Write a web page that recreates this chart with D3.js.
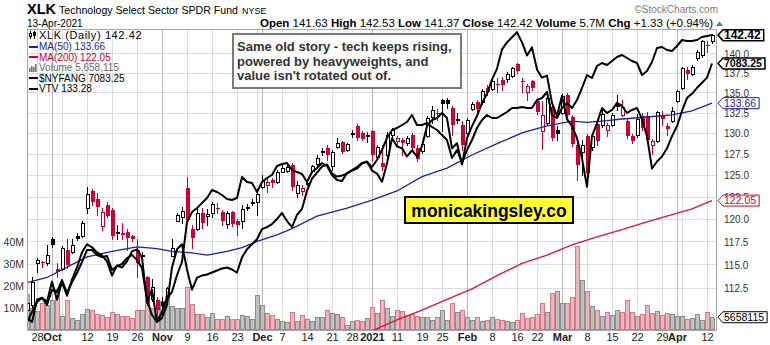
<!DOCTYPE html>
<html><head><meta charset="utf-8">
<script src="https://cdn.jsdelivr.net/npm/d3@7"></script>
<style>
html,body{margin:0;padding:0;background:#fff;}
svg{display:block;font-family:"Liberation Sans",Arial,sans-serif;}
</style></head><body>
<svg id="chart" width="770" height="345"></svg>
<script>
// ---------------- DATA ----------------
const dates = [
"2020-09-24","2020-09-25","2020-09-28","2020-09-29","2020-09-30","2020-10-01","2020-10-02","2020-10-05","2020-10-06","2020-10-07",
"2020-10-08","2020-10-09","2020-10-12","2020-10-13","2020-10-14","2020-10-15","2020-10-16","2020-10-19","2020-10-20","2020-10-21",
"2020-10-22","2020-10-23","2020-10-26","2020-10-27","2020-10-28","2020-10-29","2020-10-30","2020-11-02","2020-11-03","2020-11-04",
"2020-11-05","2020-11-06","2020-11-09","2020-11-10","2020-11-11","2020-11-12","2020-11-13","2020-11-16","2020-11-17","2020-11-18",
"2020-11-19","2020-11-20","2020-11-23","2020-11-24","2020-11-25","2020-11-27","2020-11-30","2020-12-01","2020-12-02","2020-12-03",
"2020-12-04","2020-12-07","2020-12-08","2020-12-09","2020-12-10","2020-12-11","2020-12-14","2020-12-15","2020-12-16","2020-12-17",
"2020-12-18","2020-12-21","2020-12-22","2020-12-23","2020-12-24","2020-12-28","2020-12-29","2020-12-30","2020-12-31","2021-01-04",
"2021-01-05","2021-01-06","2021-01-07","2021-01-08","2021-01-11","2021-01-12","2021-01-13","2021-01-14","2021-01-15","2021-01-19",
"2021-01-20","2021-01-21","2021-01-22","2021-01-25","2021-01-26","2021-01-27","2021-01-28","2021-01-29","2021-02-01","2021-02-02",
"2021-02-03","2021-02-04","2021-02-05","2021-02-08","2021-02-09","2021-02-10","2021-02-11","2021-02-12","2021-02-16","2021-02-17",
"2021-02-18","2021-02-19","2021-02-22","2021-02-23","2021-02-24","2021-02-25","2021-02-26","2021-03-01","2021-03-02","2021-03-03",
"2021-03-04","2021-03-05","2021-03-08","2021-03-09","2021-03-10","2021-03-11","2021-03-12","2021-03-15","2021-03-16","2021-03-17",
"2021-03-18","2021-03-19","2021-03-22","2021-03-23","2021-03-24","2021-03-25","2021-03-26","2021-03-29","2021-03-30","2021-03-31",
"2021-04-01","2021-04-05","2021-04-06","2021-04-07","2021-04-08","2021-04-09","2021-04-12","2021-04-13"];

const openP = [110.2,110.76,115.2,115.3,115.1,117.7,114.5,114.5,116.6,116.3,
118.1,118.1,121.2,123.2,122.2,119.2,121.5,121.0,118.4,118.4,
118.5,118.1,116.6,115.9,113.6,111.3,111.2,111.0,111.5,115.9,
119.8,120.2,123.5,118.9,118.9,120.6,120.3,120.6,121.2,120.8,
119.4,120.8,119.7,119.8,121.2,121.8,121.9,123.6,123.85,124.4,
124.2,125.4,125.5,126.2,122.9,123.15,124.0,125.5,126.3,127.7,
128.2,126.0,128.3,128.9,127.95,129.9,130.85,130.0,129.6,130.2,
127.1,126.4,127.4,129.75,129.0,129.15,128.8,129.75,128.2,127.8,
129.6,131.95,132.5,134.0,134.0,133.0,131.6,130.97,130.0,132.9,
133.8,133.8,135.6,135.45,136.1,136.6,136.7,137.1,138.6,136.5,
135.1,136.45,133.9,130.24,131.2,133.2,130.35,132.45,134.7,131.95,
128.55,127.7,129.6,128.3,131.1,130.97,130.36,130.97,133.3,132.2,
131.45,129.6,129.75,132.1,132.1,128.55,129.05,132.2,130.85,131.45,
133.9,135.6,137.85,137.35,139.4,139.8,141.1,141.63];

const highP = [111.4,113.7,115.7,115.4,117.1,118.0,115.2,117.0,117.7,117.7,
118.4,119.8,123.6,123.4,122.9,121.2,121.9,121.2,119.3,119.5,
118.9,118.2,117.7,116.3,113.8,113.4,111.6,111.5,112.6,117.7,
120.7,121.3,124.8,119.3,121.2,121.2,121.1,121.9,121.8,121.0,
120.9,120.9,120.0,121.6,121.7,122.2,123.0,125.0,124.7,124.7,
125.6,126.2,126.2,126.4,124.3,123.85,124.4,126.2,127.4,128.2,
128.5,127.95,129.4,129.0,128.8,130.4,131.1,130.2,130.1,130.4,
128.55,128.55,130.1,130.6,129.6,129.4,129.6,130.0,128.55,128.9,
132.1,133.3,132.9,134.2,134.3,133.3,132.45,131.4,131.8,133.8,
134.0,135.45,135.95,136.8,136.8,137.0,137.6,138.3,138.7,136.8,
136.1,136.6,134.06,133.9,134.6,133.4,130.85,134.8,134.9,132.2,
129.15,129.15,129.9,129.9,131.6,132.8,131.2,132.4,134.7,134.06,
131.7,129.9,132.3,132.45,132.6,129.3,132.7,132.7,131.2,133.2,
135.3,138.3,138.3,138.5,140.46,141.8,141.7,142.53];

const lowP = [109.6,110.55,114.2,114.7,114.9,116.9,113.7,114.4,114.6,116.2,
117.6,118.0,120.7,121.6,120.4,118.8,120.2,117.8,117.8,117.8,
116.6,117.5,113.7,115.2,110.7,111.1,109.0,109.4,111.3,115.9,
119.7,119.5,119.7,116.8,118.7,119.0,119.3,120.2,120.6,119.3,
119.0,119.2,118.2,119.0,121.0,121.6,120.4,123.5,123.0,123.6,
124.1,125.3,125.3,123.3,122.5,122.7,123.85,125.4,126.2,127.4,
126.8,125.6,128.2,127.6,127.8,129.5,129.15,129.1,128.9,126.8,
127.0,125.6,127.2,129.4,128.55,127.4,128.55,127.95,126.7,127.6,
129.5,131.2,131.6,130.2,133.0,129.75,131.2,127.95,129.75,132.8,
132.6,133.6,134.7,135.3,135.0,135.3,136.3,137.0,137.5,135.1,
134.0,135.3,132.3,128.1,130.97,129.15,129.15,132.3,131.95,128.4,
124.4,125.0,124.0,127.95,128.55,130.7,129.6,130.85,132.8,132.1,
129.4,128.8,129.5,130.36,129.0,127.5,128.9,130.97,129.75,131.3,
133.8,135.45,136.7,137.2,139.2,139.6,140.2,141.37];

const closeP = [110.9,113.15,115.5,115.1,116.0,117.1,114.2,116.8,114.9,117.1,
117.7,119.5,122.8,121.9,121.3,120.8,120.3,118.1,118.5,118.2,
117.9,117.7,115.2,116.0,110.8,112.6,110.2,110.6,112.5,116.8,
120.4,120.9,119.9,117.9,120.6,119.5,120.5,121.7,121.1,119.7,
120.7,119.4,119.3,121.1,121.3,121.9,122.8,124.3,124.2,124.1,
125.4,125.8,125.95,123.6,123.85,123.5,124.1,126.0,127.0,127.8,
127.4,127.7,128.8,127.7,128.7,130.0,129.4,129.3,129.75,127.4,
128.3,125.95,129.75,130.4,129.4,128.8,129.4,128.2,126.9,128.7,
131.8,132.8,132.4,133.5,133.6,130.97,131.7,128.55,131.6,133.55,
132.9,135.2,135.0,136.5,136.0,135.95,137.35,138.1,137.75,136.45,
135.8,135.6,132.55,132.2,134.3,129.4,129.85,134.55,132.2,128.7,
126.2,128.55,125.25,129.6,129.0,132.3,130.97,132.2,133.4,133.2,
129.6,129.0,131.7,130.6,129.15,129.05,132.55,131.7,130.5,132.7,
135.2,138.1,137.35,138.25,140.2,141.6,141.09,142.42];

// volume in millions of shares
const volumeM = [16.5,10.0,8.5,12.3,11.3,13.6,18.6,6.2,13.6,5.4,
4.6,7.3,9.4,8.8,7.3,6.7,5.8,8.0,7.3,6.2,
6.2,5.1,8.8,9.0,14.0,9.7,10.3,13.0,15.4,10.8,
9.7,10.0,19.6,11.7,7.2,7.2,5.9,7.6,4.9,4.9,
6.4,4.9,4.9,6.9,6.0,4.9,15.9,11.2,7.7,6.9,
4.9,3.8,3.6,8.2,3.8,6.9,4.9,3.8,5.9,5.9,
9.2,7.6,7.2,5.7,2.3,3.8,4.2,3.9,5.1,10.5,
7.5,13.4,9.7,6.2,8.8,8.5,6.5,7.3,6.0,5.7,
5.7,4.2,5.7,8.8,4.2,12.0,8.0,9.2,5.7,4.2,
5.7,3.8,4.6,5.7,5.0,4.6,3.8,3.5,4.6,7.4,
5.3,5.8,7.0,12.4,8.2,17.0,17.8,12.4,12.4,15.0,
38.7,22.7,17.8,10.8,8.8,6.2,8.2,6.7,9.2,8.0,
13.4,8.2,6.2,7.0,11.3,7.4,8.5,6.5,7.5,7.2,
6.2,6.0,4.9,5.5,7.0,4.6,8.0,5.658115];

const vtv = [104.58,105.58,106.58,106.98,106.28,107.78,107.58,108.78,107.48,108.58,
109.48,110.58,111.78,111.78,111.28,111.08,111.18,109.78,110.18,110.38,
110.98,111.28,110.78,109.98,106.78,105.28,104.58,105.58,106.98,107.58,
109.28,110.58,114.58,115.58,115.98,116.48,116.98,117.78,117.58,117.28,
116.88,116.78,116.98,119.08,118.58,118.48,117.58,118.58,118.98,119.28,
120.18,120.38,120.48,119.78,119.58,119.38,118.58,119.58,119.98,120.48,
120.18,119.28,118.78,118.68,119.48,119.78,120.08,120.48,120.58,120.08,
120.78,121.78,122.98,123.78,123.98,124.28,124.58,125.28,124.28,124.28,
124.48,124.08,123.78,123.28,122.78,120.98,121.78,120.48,121.78,122.78,
123.98,124.78,125.28,124.98,124.98,125.28,125.58,125.98,125.98,126.08,
125.98,125.98,126.78,126.98,127.58,125.28,124.98,125.98,126.48,125.98,
126.78,127.98,129.28,128.98,130.18,130.48,130.28,130.68,131.08,131.28,
130.98,130.68,130.48,129.28,129.68,130.58,131.98,132.08,131.78,131.68,
132.18,132.78,132.68,132.68,132.78,133.08,133.18,133.28];

const nyfang = [5067,5035,5211,5227,5195,5355,5211,5355,5243,5371,
5467,5587,5651,5627,5587,5563,5515,5403,5483,5467,
5515,5595,5611,5547,5195,5291,5035,5067,5171,5467,
5611,5651,5451,5291,5387,5403,5411,5427,5443,5459,
5467,5451,5427,5547,5611,5651,5691,5771,5787,5811,
5851,5899,5835,5787,5883,5931,6075,6171,6219,6267,
6283,6211,6187,6195,6211,6235,6251,6291,6307,6235,
6211,6147,6291,6491,6427,6411,6347,6395,6347,6427,
6587,6635,6651,6691,6651,6411,6451,6283,6491,6587,
6667,6771,6843,6955,7043,7195,7251,7291,7331,7251,
7147,7211,7035,6971,6987,6771,6667,6827,6643,6587,
6491,6331,6107,6507,6611,6731,6691,6715,6771,6747,
6691,6715,6731,6643,6507,6251,6307,6347,6411,6507,
6587,6707,6811,6843,6891,6931,6971,7083.25];

const ma50Dates = ["2020-09-24","2020-09-30","2020-10-06","2020-10-12","2020-10-19","2020-10-26","2020-10-30","2020-11-04",
"2020-11-10","2020-11-13","2020-11-19","2020-11-24","2020-11-30","2020-12-04","2020-12-09","2020-12-16","2020-12-24",
"2021-01-04","2021-01-11","2021-01-19","2021-01-26","2021-02-02","2021-02-09","2021-02-17","2021-02-24","2021-03-03",
"2021-03-08","2021-03-12","2021-03-17","2021-03-24","2021-03-31","2021-04-07","2021-04-13"];
const ma50Values = [113.05,113.6,114.7,115.8,116.4,116.9,116.7,116.4,116.25,116.0,116.4,116.8,117.5,118.2,118.9,120.3,121.2,
122.1,123.15,124.8,125.8,127.35,128.7,130.0,130.85,131.45,131.3,131.5,131.7,131.95,132.2,132.7,133.66];

const ma200Dates = ["2020-12-29","2021-01-05","2021-01-11","2021-01-19","2021-01-26","2021-02-02","2021-02-09","2021-02-17",
"2021-02-24","2021-03-03","2021-03-10","2021-03-17","2021-03-24","2021-03-31","2021-04-07","2021-04-13"];
const ma200Values = [107.4,108.3,109.2,110.2,111.3,112.4,113.8,115.1,116.0,117.1,118.0,118.8,119.65,120.45,121.1,122.05];

const priceTicks = [112.5,115,117.5,120,122.5,125,127.5,130,132.5,135,137.5,140];
const volumeTicks = [10,20,30,40];

const noteLines = ["Same old story - tech keeps rising,","powered by heavyweights, and","value isn't rotated out of."];
const watermark = "monicakingsley.co";

// ---------------- LAYOUT ----------------
const svg = d3.select('#chart');
const L = 27, R = 717, T = 29, B = 330;
const RED = '#cc0033', BLUE = '#1f1fa3', MARED = '#d9143f';

const x = d3.scalePoint().domain(dates).range([27, 712]);
const y = d3.scaleLog().domain([108.17, 143.37]).range([330, 28]);
const yVol = d3.scaleLinear().domain([0, 40]).range([329.5, 242.7]);
const yVtv = d3.scaleLinear().domain([104.58, 133.28]).range([322, 35]);
const yNy = d3.scaleLinear().domain([5035, 7083.25]).range([322, 63.5]);

const parse = d3.timeParse('%Y-%m-%d');
const pd = dates.map(parse);
const weekStarts = [], monthStarts = [];
for (let i = 1; i < pd.length; i++) {
  if (pd[i].getMonth() !== pd[i-1].getMonth()) monthStarts.push(i);
  if (pd[i].getDay() <= pd[i-1].getDay()) weekStarts.push(i);
}

svg.append('defs').append('clipPath').attr('id','plotclip')
  .append('rect').attr('x', L).attr('y', T).attr('width', R - L).attr('height', B - T);

// background grid
const grid = svg.append('g');
priceTicks.forEach(t => {
  const yy = Math.round(y(t)) + 0.5;
  grid.append('line').attr('x1', L).attr('x2', R).attr('y1', yy).attr('y2', yy).attr('stroke', '#dddddd');
});
weekStarts.forEach(i => {
  const xx = Math.round(x(dates[i])) + 0.5;
  grid.append('line').attr('x1', xx).attr('x2', xx).attr('y1', T).attr('y2', B).attr('stroke', '#dddddd');
});
monthStarts.forEach(i => {
  const xx = Math.round(x(dates[i])) + 0.5;
  grid.append('line').attr('x1', xx).attr('x2', xx).attr('y1', T).attr('y2', B).attr('stroke', '#b9b9b9');
});

const plot = svg.append('g').attr('clip-path', 'url(#plotclip)');

// volume
const gv = plot.append('g');
dates.forEach((d, i) => {
  const c = Math.round(x(d));
  const up = i === 0 ? true : closeP[i] >= closeP[i-1];
  const top = Math.round(yVol(volumeM[i]));
  const bot = Math.round(yVol(0));
  gv.append('rect').attr('x', c - 1.5).attr('y', top + 0.5).attr('width', 4).attr('height', Math.max(1, bot - top - 1))
    .attr('fill', up ? '#c0c0c0' : '#eab7bf').attr('stroke', up ? '#8e8e8e' : '#d9788a').attr('stroke-width', 1);
});

// candles
const gc = plot.append('g');
dates.forEach((d, i) => {
  const c = Math.round(x(d));
  const o = openP[i], h = highP[i], l = lowP[i], cl = closeP[i];
  const prev = i === 0 ? o : closeP[i-1];
  const col = cl >= prev ? '#000' : RED;
  const hollow = cl > o;
  const top = Math.round(y(Math.max(o, cl)));
  const bot = Math.round(y(Math.min(o, cl)));
  gc.append('line').attr('x1', c + 0.5).attr('x2', c + 0.5)
    .attr('y1', Math.round(y(h))).attr('y2', Math.round(y(l)) + 1).attr('stroke', col).attr('stroke-width', 1);
  if (hollow) {
    gc.append('rect').attr('x', c - 0.5).attr('y', top + 0.5).attr('width', 3).attr('height', Math.max(1, bot - top))
      .attr('fill', '#fff').attr('stroke', col).attr('stroke-width', 1);
  } else {
    gc.append('rect').attr('x', c - 1).attr('y', top).attr('width', 4).attr('height', Math.max(1, bot - top))
      .attr('fill', col);
  }
});

// moving averages
const maLine = d3.line().x(p => x(p[0])).y(p => y(p[1]));
plot.append('path').datum(ma200Dates.map((d, i) => [d, ma200Values[i]])).attr('d', maLine)
  .attr('fill', 'none').attr('stroke', MARED).attr('stroke-width', 1.3);
plot.append('path').datum(ma50Dates.map((d, i) => [d, ma50Values[i]])).attr('d', maLine)
  .attr('fill', 'none').attr('stroke', BLUE).attr('stroke-width', 1.3);

// comparison overlays
plot.append('path').datum(dates.map((d, i) => [d, nyfang[i]]))
  .attr('d', d3.line().x(p => x(p[0])).y(p => yNy(p[1])))
  .attr('fill', 'none').attr('stroke', '#000').attr('stroke-width', 2).attr('stroke-linejoin', 'round');
plot.append('path').datum(dates.map((d, i) => [d, vtv[i]]))
  .attr('d', d3.line().x(p => x(p[0])).y(p => yVtv(p[1])))
  .attr('fill', 'none').attr('stroke', '#000').attr('stroke-width', 2).attr('stroke-linejoin', 'round');

// frame
svg.append('rect').attr('x', L + 0.5).attr('y', T + 0.5).attr('width', R - L - 1).attr('height', B - T)
  .attr('fill', 'none').attr('stroke', '#a8a8a8');

// right axis labels
const ra = svg.append('g').attr('font-size', '10px').attr('fill', '#333');
priceTicks.forEach(t => {
  ra.append('text').attr('x', 724).attr('y', y(t) + 0.8).attr('dy', '0.36em').text(t.toFixed(1));
});

// left volume axis labels
const la = svg.append('g').attr('font-size', '10.5px').attr('fill', '#333').attr('text-anchor', 'end');
volumeTicks.forEach(v => {
  la.append('text').attr('x', 24).attr('y', yVol(v)).attr('dy', '0.36em').text(v + 'M');
});

// x-axis labels
const xa = svg.append('g').attr('font-size', '11px').attr('fill', '#222').attr('text-anchor', 'middle');
const fmtMon = d3.timeFormat('%b');
monthStarts.forEach(i => {
  const dt = pd[i];
  xa.append('text').attr('x', x(dates[i]) + 0.5).attr('y', 341).attr('font-weight', 'bold')
    .text(dt.getMonth() === 0 ? String(dt.getFullYear()) : fmtMon(dt));
});
weekStarts.forEach(i => {
  if (monthStarts.some(m => Math.abs(m - i) <= 2)) return;
  xa.append('text').attr('x', x(dates[i]) + 0.5).attr('y', 341).text(String(pd[i].getDate()));
});

// legend
const n = dates.length - 1;
const lg = svg.append('g');
lg.append('line').attr('x1', 30.5).attr('x2', 30.5).attr('y1', 31).attr('y2', 39).attr('stroke', '#000');
lg.append('rect').attr('x', 29.5).attr('y', 33.5).attr('width', 2).attr('height', 3).attr('fill', '#fff').attr('stroke', '#000');
lg.append('line').attr('x1', 34.5).attr('x2', 34.5).attr('y1', 31).attr('y2', 39).attr('stroke', '#000');
lg.append('rect').attr('x', 33).attr('y', 32).attr('width', 3).attr('height', 4).attr('fill', '#000');
lg.append('text').attr('x', 39).attr('y', 39).attr('font-size', '11px').attr('letter-spacing', '0.6px').attr('fill', '#000')
  .text('XLK (Daily) ' + closeP[n].toFixed(2));
const legendRows = [
  {yc: 46.5, color: BLUE, text: 'MA(50) ' + ma50Values[ma50Values.length-1].toFixed(2), icon: 'line'},
  {yc: 57, color: RED, text: 'MA(200) ' + ma200Values[ma200Values.length-1].toFixed(2), icon: 'line'},
  {yc: 67.5, color: '#666', text: 'Volume ' + d3.format(',')(Math.round(volumeM[n] * 1e6)), icon: 'bars'},
  {yc: 78, color: '#000', text: '$NYFANG ' + nyfang[n].toFixed(2), icon: 'line'},
  {yc: 88.5, color: '#000', text: 'VTV ' + vtv[n].toFixed(2), icon: 'line'}
];
legendRows.forEach(r => {
  if (r.icon === 'line') {
    lg.append('rect').attr('x', 29).attr('y', Math.round(r.yc) - 1).attr('width', 9).attr('height', 2).attr('fill', r.color);
  } else {
    [[29,4],[31,6],[33,5],[35,8]].forEach(b => lg.append('rect').attr('x', b[0]).attr('y', Math.round(r.yc) + 4 - b[1])
      .attr('width', 1.6).attr('height', b[1]).attr('fill', '#777'));
  }
  lg.append('text').attr('x', 39).attr('y', r.yc + 3.6).attr('font-size', '10px').attr('fill', r.color).text(r.text);
});

// annotation box
const ann = svg.append('g');
ann.append('rect').attr('x', 233).attr('y', 34).attr('width', 228).attr('height', 54)
  .attr('fill', '#fff').attr('stroke', '#7a7a7a').attr('stroke-width', 2);
noteLines.forEach((t, i) => {
  ann.append('text').attr('x', 237).attr('y', 51 + i * 14.6).attr('font-size', '13px').attr('font-weight', 'bold')
    .attr('fill', '#333').text(t);
});

// watermark
const wm = svg.append('g');
wm.append('rect').attr('x', 405).attr('y', 197).attr('width', 168).attr('height', 26)
  .attr('fill', '#ffff33').attr('stroke', '#000').attr('stroke-width', 2);
wm.append('text').attr('x', 489).attr('y', 216.5).attr('text-anchor', 'middle').attr('font-size', '17.5px')
  .attr('font-weight', 'bold').attr('fill', '#000').text(watermark);

// right value tags
function tag(yc, txt, color, bold, fs) {
  const g = svg.append('g');
  const p = g.append('path').attr('fill', '#fff').attr('stroke', color).attr('stroke-width', bold ? 1.5 : 1);
  const t = g.append('text').attr('x', 724).attr('y', yc).attr('dy', '0.36em').attr('font-size', fs)
    .attr('font-weight', bold ? 'bold' : 'normal').attr('fill', color).text(txt);
  const w = t.node().getComputedTextLength();
  const r = 724 + w + 3, h = 5.5;
  p.attr('d', `M718,${yc} L723,${yc - h} L${r},${yc - h} L${r},${yc + h} L723,${yc + h} Z`);
}
tag(y(closeP[n]), closeP[n].toFixed(2), '#000', true, '12px');
tag(yNy(nyfang[n]), nyfang[n].toFixed(2), '#000', true, '10.5px');
tag(y(ma50Values[ma50Values.length-1]), ma50Values[ma50Values.length-1].toFixed(2), BLUE, false, '10.5px');
tag(y(ma200Values[ma200Values.length-1]), ma200Values[ma200Values.length-1].toFixed(2), RED, false, '10.5px');
tag(yVol(volumeM[n]), String(Math.round(volumeM[n] * 1e6)), '#000', false, '10.5px');

// header
const hd = svg.append('g').attr('fill', '#000');
const title = hd.append('text').attr('x', 27).attr('y', 14);
title.append('tspan').attr('font-size', '14.5px').attr('font-weight', 'bold').text('XLK');
title.append('tspan').attr('font-size', '10.6px').attr('dx', 3).text('Technology Select Sector SPDR Fund');
title.append('tspan').attr('font-size', '9px').attr('dx', 4).text('NYSE');
hd.append('text').attr('x', 27).attr('y', 27).attr('font-size', '10px').text('13-Apr-2021');
const ohlc = hd.append('text').attr('x', 713).attr('y', 27).attr('text-anchor', 'end').attr('font-size', '11.5px');
const chg = closeP[n] - closeP[n-1];
const parts = [['Open', openP[n].toFixed(2)], ['High', highP[n].toFixed(2)], ['Low', lowP[n].toFixed(2)],
  ['Close', closeP[n].toFixed(2)], ['Volume', (volumeM[n]).toFixed(1) + 'M'],
  ['Chg', '+' + chg.toFixed(2) + ' (+' + (chg / closeP[n-1] * 100).toFixed(2) + '%)']];
parts.forEach((p, i) => {
  ohlc.append('tspan').attr('font-weight', 'bold').text((i ? ' ' : '') + p[0]);
  ohlc.append('tspan').text(' ' + p[1]);
});
hd.append('path').attr('d', 'M716,26 L719.5,21.5 L723,26 Z').attr('fill', '#2e9e3e');
hd.append('text').attr('x', 718).attr('y', 13).attr('text-anchor', 'end').attr('font-size', '10px')
  .attr('fill', '#7d7d7d').text('\u00A9StockCharts.com');
</script>
</body></html>
